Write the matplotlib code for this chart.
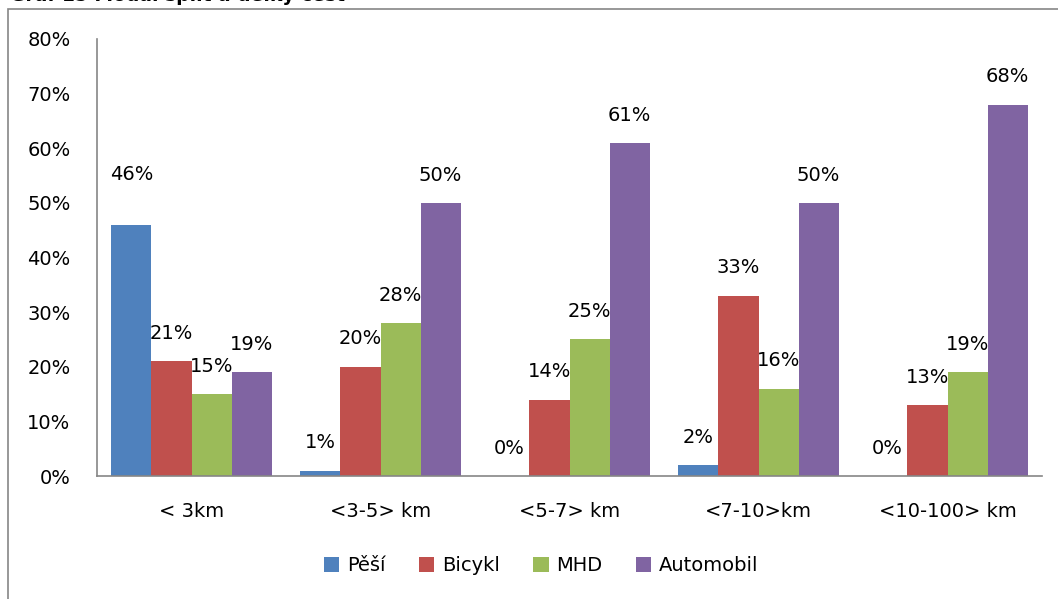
import matplotlib.pyplot as plt
import numpy as np
from matplotlib.patches import Rectangle

# Data
categories = ['< 3km', '<3-5> km', '<5-7> km', '<7-10>km', '<10-100> km']
series_names = ['Pěší', 'Bicykl', 'MHD', 'Automobil']
pesi = [46, 1, 0, 2, 0]
bicykl = [21, 20, 14, 33, 13]
mhd = [15, 28, 25, 16, 19]
automobil = [19, 50, 61, 50, 68]
colors = ['#4F81BD', '#C0504D', '#9BBB59', '#8064A2']

plt.rcParams['font.family'] = ['DejaVu Sans']

fig = plt.figure(figsize=(10.58, 5.99), dpi=100)
ax = fig.add_axes([97 / 1058, 1 - 476 / 599, 945 / 1058, 437 / 599])

# outer chart border (continues past the right and bottom edges)
fig.patches.append(Rectangle((8 / 1058, -0.1), 1.2, 1 - 9 / 599 + 0.1,
                             transform=fig.transFigure, fill=False,
                             edgecolor='#868686', linewidth=1.2))

# clipped title at the very top
fig.text(10 / 1058, 1 - 1 / 599, 'Graf 15 Modal split a délky cest',
         fontsize=13.5, fontweight='bold', va='baseline', ha='left')

x = np.arange(len(categories))
w = 0.212
all_series = [pesi, bicykl, mhd, automobil]
for i, (name, vals) in enumerate(zip(series_names, all_series)):
    pos = x + (i - 1.5) * w
    ax.bar(pos, [v / 100 for v in vals], width=w, color=colors[i], label=name)
    for j, (p, v) in enumerate(zip(pos, vals)):
        # the first label of the chart sits higher in the original
        off = 36 if (i == 0 and j == 0) else 20
        ax.annotate(f'{v}%', (p, v / 100), xytext=(0, off), textcoords='offset points',
                    ha='center', va='center', fontsize=14)

ax.set_xlim(-0.5, len(categories) - 0.5)
ax.set_ylim(0, 0.8)
ax.set_yticks(np.arange(0, 0.81, 0.1))
ax.set_yticklabels([f'{int(round(t * 100))}%' for t in np.arange(0, 0.81, 0.1)], fontsize=14)
ax.set_xticks(x)
ax.set_xticklabels(categories, fontsize=14)
ax.tick_params(axis='both', length=0)
ax.tick_params(axis='y', pad=19)
ax.tick_params(axis='x', pad=19)
for s in ['top', 'right']:
    ax.spines[s].set_visible(False)
for s in ['left', 'bottom']:
    ax.spines[s].set_color('#868686')
    ax.spines[s].set_linewidth(1.2)

ax.legend(loc='center', bbox_to_anchor=(0.47, -0.205), ncol=4, frameon=False,
          fontsize=14, handlelength=0.8, handleheight=0.8, handletextpad=0.4,
          columnspacing=1.7)

fig.savefig('out.png', dpi=100)
